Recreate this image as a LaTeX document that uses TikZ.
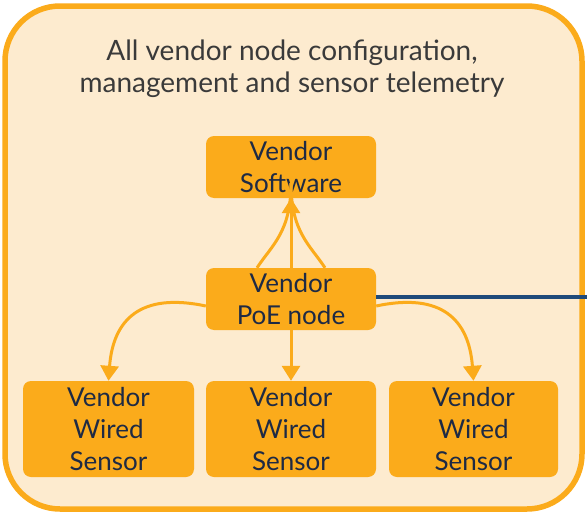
\documentclass[tikz,border=0pt]{standalone}
\usepackage{fontspec}
\setmainfont{Lato}
\usetikzlibrary{arrows.meta}
\definecolor{cream}{HTML}{FDEBCF}
\definecolor{orng}{HTML}{FBAB1B}
\definecolor{navytext}{HTML}{1E2A44}
\definecolor{navyline}{HTML}{1F4A7A}
\definecolor{graytext}{HTML}{3A3A3A}
\tikzset{
  box/.style={fill=orng, rounded corners=8pt, inner sep=0pt, align=center,
    text=navytext, font=\fontsize{26}{32}\selectfont},
  link/.style={draw=orng, line width=3pt},
  tip/.style={-{Triangle[width=18pt,length=15pt]}},
}
\begin{document}
\begin{tikzpicture}[x=1pt,y=-1pt]
\useasboundingbox (0,0) rectangle (587,514);
\draw[fill=cream, draw=orng, line width=5.5pt, rounded corners=55pt] (5,6) rectangle (582,509);
\node[text=graytext, align=center, font=\fontsize{28}{32}\selectfont] (title) at (292,69)
  {All vendor node configuration,\\management and sensor telemetry};
\node[box, minimum width=170pt, minimum height=62pt] (sw) at (291,167) {Vendor\\Software};
\node[box, minimum width=170pt, minimum height=62pt] (poe) at (291,299) {Vendor\\PoE node};
\node[box, minimum width=171pt, minimum height=96pt] (s1) at (108.5,429) {Vendor\\Wired\\Sensor};
\node[box, minimum width=170pt, minimum height=96pt] (s2) at (291,429) {Vendor\\Wired\\Sensor};
\node[box, minimum width=169pt, minimum height=96pt] (s3) at (473.5,429) {Vendor\\Wired\\Sensor};
\coordinate (edge) at (587,297);
\draw[navyline, line width=3.2pt] (poe.east |- edge) -- (edge);
% up to software
\draw[link, tip] (poe.north) -- (sw.south);
\draw[link] ([xshift=-34pt]poe.north) .. controls (272,245) and (291,232) .. ([yshift=15pt]sw.south);
\draw[link] ([xshift=34pt]poe.north) .. controls (310,245) and (291,232) .. ([yshift=15pt]sw.south);
% down to sensors
\draw[link, tip] (poe.south) -- (s2.north);
\draw[link, tip] ([yshift=-7pt]poe.west) .. controls (140,292) and (113,320) .. (s1.north);
\draw[link, tip] ([yshift=-7pt]poe.east) .. controls (442,292) and (469,320) .. (s3.north);
\end{tikzpicture}
\end{document}
